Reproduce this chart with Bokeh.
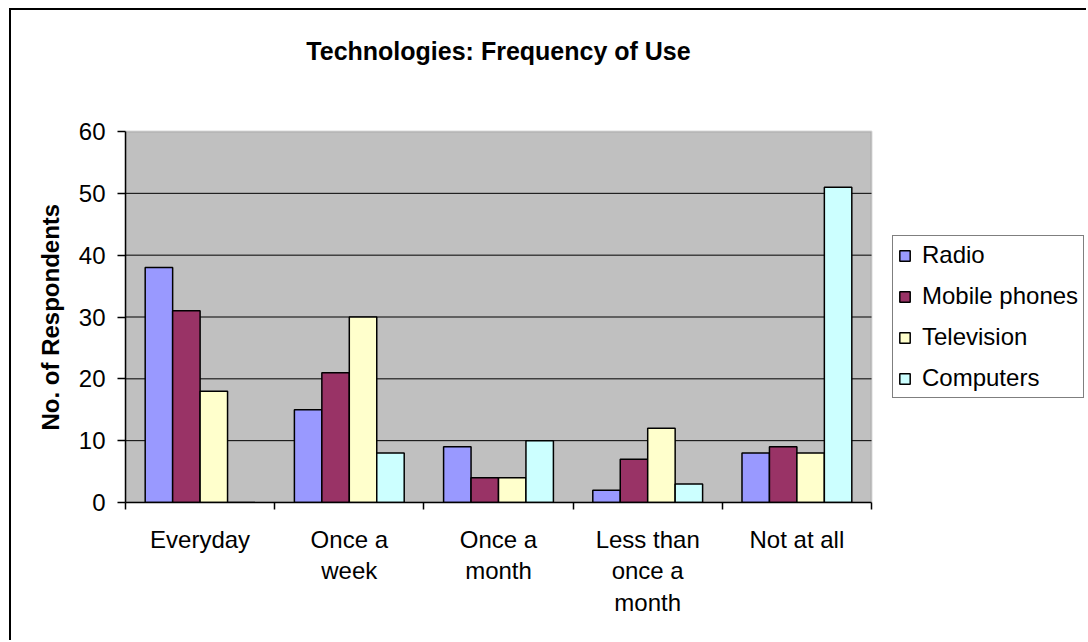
import numpy as np
from bokeh.plotting import figure
from bokeh.models import (Range1d, FixedTicker, Legend, LegendItem, ColumnDataSource,
                          BoxAnnotation, Label, Title)
from bokeh.embed import file_html
from bokeh.resources import INLINE

# Survey answers: how often each technology is used
categories = ["Everyday", "Once a\nweek", "Once a\nmonth", "Less than\nonce a\nmonth", "Not at all"]
series = ["Radio", "Mobile phones", "Television", "Computers"]
radio = [38, 15, 9, 2, 8]
mobile_phones = [31, 21, 4, 7, 9]
television = [18, 30, 4, 12, 8]
computers = [0, 8, 10, 3, 51]
y_ticks = [0, 10, 20, 30, 40, 50, 60]

values = [radio, mobile_phones, television, computers]
colors = ["#9999FF", "#993366", "#FFFFCC", "#CCFFFF"]
FONT = "Liberation Sans"

n = len(categories)
y_max = y_ticks[-1]
centers = np.arange(n) + 0.5
boundaries = list(range(n + 1))

# Canvas geometry (pixels). The frame spans everything right of and above the
# axes, so the title and legend can live inside it; the plot area itself is
# AREA_W x AREA_H pixels in its lower-left corner.
W, H = 1077, 632
LEFT, BOTTOM = 114, 140
AREA_W, AREA_H = 746, 371
TITLE_Y = 40                      # title centre, pixels from the top
frame_h = H - BOTTOM
x_end = n * (W - LEFT) / AREA_W
y_end = y_max * frame_h / AREA_H

p = figure(width=W, height=H, output_backend="svg", toolbar_location=None,
           x_range=Range1d(0, x_end), y_range=Range1d(0, y_end),
           min_border_left=LEFT, min_border_right=0,
           min_border_top=0, min_border_bottom=BOTTOM)
p.title = None

# Chart-area border (left and top edges; the others run off the page)
p.styles = {"margin-left": "9px", "margin-top": "8px",
            "border-left": "2px solid black", "border-top": "2px solid black"}

p.background_fill_color = "white"
p.border_fill_color = "white"
p.outline_line_color = None

# Grey plot area
p.add_layout(BoxAnnotation(left=0, right=n, bottom=0, top=y_max, level="image",
                           fill_color="#C0C0C0", fill_alpha=1,
                           line_color="#808080", line_width=2))

# Title, centred over the plot area
p.add_layout(Label(x=n / 2, y=y_max * (frame_h - TITLE_Y) / AREA_H,
                   text="Technologies: Frequency of Use",
                   text_align="center", text_baseline="middle",
                   text_font=FONT, text_font_size="25px", text_font_style="bold",
                   text_color="black"))

# Horizontal gridlines across the plot area
p.xgrid.visible = False
p.ygrid.visible = False
grid_y = [t for t in y_ticks if 0 < t < y_max]
p.segment(x0=[0] * len(grid_y), x1=[n] * len(grid_y), y0=grid_y, y1=grid_y,
          line_color="black", line_width=1, level="underlay")

# Grouped bars
bar_w = 0.184
offsets = [-1.5 * bar_w, -0.5 * bar_w, 0.5 * bar_w, 1.5 * bar_w]
renderers = []
for name, vals, col, off in zip(series, values, colors, offsets):
    src = ColumnDataSource(dict(x=centers + off, top=vals))
    r = p.vbar(x="x", top="top", width=bar_w, source=src,
               fill_color=col, line_color="black", line_width=1.5)
    renderers.append(r)

# Y axis
yax = p.yaxis[0]
yax.bounds = (0, y_max)
yax.ticker = FixedTicker(ticks=y_ticks)
yax.axis_line_color = "black"
yax.axis_line_width = 1.5
yax.major_tick_in = 0
yax.major_tick_out = 8
yax.major_tick_line_width = 1.5
yax.minor_tick_out = 0
yax.minor_tick_in = 0
yax.major_label_standoff = 12
yax.major_label_text_font = FONT
yax.major_label_text_font_size = "24px"
yax.major_label_text_color = "black"

# Y axis title, centred on the plot area's height
label_len = 227                   # approx. rendered length of the label, px
p.add_layout(Title(text="No. of Respondents", align="left", vertical_align="bottom",
                   offset=(AREA_H - label_len) / 2, standoff=24,
                   text_font=FONT, text_font_size="24px", text_font_style="bold",
                   text_color="black"), "left")

# X axis: labels at category centres, tick marks at category boundaries
xax = p.xaxis[0]
xax.bounds = (0, n)
xax.ticker = FixedTicker(ticks=list(centers), minor_ticks=boundaries)
xax.major_label_overrides = {float(c): lab for c, lab in zip(centers, categories)}
xax.axis_line_color = "black"
xax.axis_line_width = 1.5
xax.major_tick_in = 0
xax.major_tick_out = 0
xax.minor_tick_in = 0
xax.minor_tick_out = 7
xax.minor_tick_line_color = "black"
xax.minor_tick_line_width = 1.5
xax.major_label_standoff = 16
xax.major_label_text_font = FONT
xax.major_label_text_font_size = "24px"
xax.major_label_text_color = "black"
xax.major_label_text_line_height = 1.17

# Legend to the right of the plot area
legend = Legend(items=[LegendItem(label=s, renderers=[r]) for s, r in zip(series, renderers)],
                location=(767, 104))
legend.border_line_color = "black"
legend.border_line_width = 1.5
legend.background_fill_color = "white"
legend.background_fill_alpha = 1
legend.padding = 5
legend.margin = 0
legend.spacing = 13
legend.glyph_width = 13
legend.glyph_height = 13
legend.label_height = 27
legend.label_standoff = 11
legend.label_text_font = FONT
legend.label_text_font_size = "24px"
legend.label_text_color = "black"
p.add_layout(legend, "center")

open("out.html", "w").write(file_html(p, INLINE))
